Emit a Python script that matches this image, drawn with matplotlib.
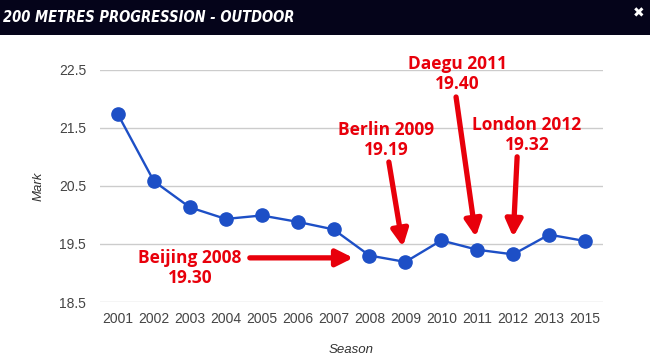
import matplotlib
matplotlib.use("Agg")
import matplotlib.pyplot as plt
from matplotlib.patches import Rectangle

seasons = ["2001", "2002", "2003", "2004", "2005", "2006", "2007",
           "2008", "2009", "2010", "2011", "2012", "2013", "2015"]
marks = [21.73, 20.58, 20.13, 19.93, 19.99, 19.88, 19.75,
         19.30, 19.19, 19.56, 19.40, 19.32, 19.66, 19.55]
yticks = [18.5, 19.5, 20.5, 21.5, 22.5]

# (label, text x, text y, arrow start, arrow end) in data coords
notes = [
    ("Beijing 2008\n19.30", 2.0, 19.09, (3.67, 19.26), (6.55, 19.26)),
    ("Berlin 2009\n19.19", 7.46, 21.29, (7.54, 20.91), (7.93, 19.45)),
    ("Daegu 2011\n19.40", 9.44, 22.42, (9.41, 22.03), (9.96, 19.62)),
    ("London 2012\n19.32", 11.38, 21.37, (11.11, 21.0), (11.0, 19.62)),
]

red = "#e8000b"
blue = "#1d4fc6"

fig = plt.figure(figsize=(6.5, 3.62), dpi=100)
fig.patch.set_facecolor("white")

# header bar
fig.patches.append(Rectangle((0, 1 - 35 / 362), 1, 35 / 362, transform=fig.transFigure,
                             facecolor="#05041a", edgecolor="none", zorder=0))
fig.text(0.004, 1 - 17 / 362, "200 METRES PROGRESSION - OUTDOOR", color="white",
         family="DejaVu Sans", stretch="condensed", weight="bold", style="italic",
         fontsize=10.5, va="center", ha="left")
fig.text(0.982, 1 - 13 / 362, "\u2716", color="white", fontsize=10, va="center", ha="center")

ax = fig.add_axes([100 / 650, 60 / 362, 503 / 650, 232.3 / 362])
x = list(range(len(seasons)))
ax.plot(x, marks, color=blue, lw=1.7, marker="o", ms=9.5, zorder=3, clip_on=False)

ax.set_xlim(-0.5, len(seasons) - 0.5)
ax.set_ylim(18.5, 22.5)
ax.set_yticks(yticks)
ax.set_yticklabels([f"{v:.1f}" for v in yticks])
ax.set_xticks(x)
ax.set_xticklabels(seasons)
ax.grid(axis="y", color="#cccccc", lw=1)
ax.set_axisbelow(True)
for s in ax.spines.values():
    s.set_visible(False)
ax.tick_params(length=0, labelsize=10, labelcolor="#444444")
ax.tick_params(axis="y", pad=10)
ax.tick_params(axis="x", pad=7)
for lab in ax.get_xticklabels() + ax.get_yticklabels():
    lab.set_family("Liberation Sans")

ax.set_xlabel("Season", style="italic", fontsize=9.5, color="#333333",
              family="Liberation Sans", labelpad=13)
ax.set_ylabel("Mark", style="italic", fontsize=9.5, color="#333333",
              family="Liberation Sans", labelpad=10)

for label, tx, ty, start, end in notes:
    ax.text(tx, ty, label, color=red, fontsize=12.5, weight="bold", family="Open Sans",
            ha="center", va="center", linespacing=1.15, zorder=5)
    ax.annotate("", xy=end, xytext=start, zorder=4,
                arrowprops=dict(arrowstyle="-|>,head_length=1.0,head_width=0.5",
                                color=red, lw=3.8, shrinkA=0, shrinkB=0))

fig.savefig("out.png", dpi=100)
